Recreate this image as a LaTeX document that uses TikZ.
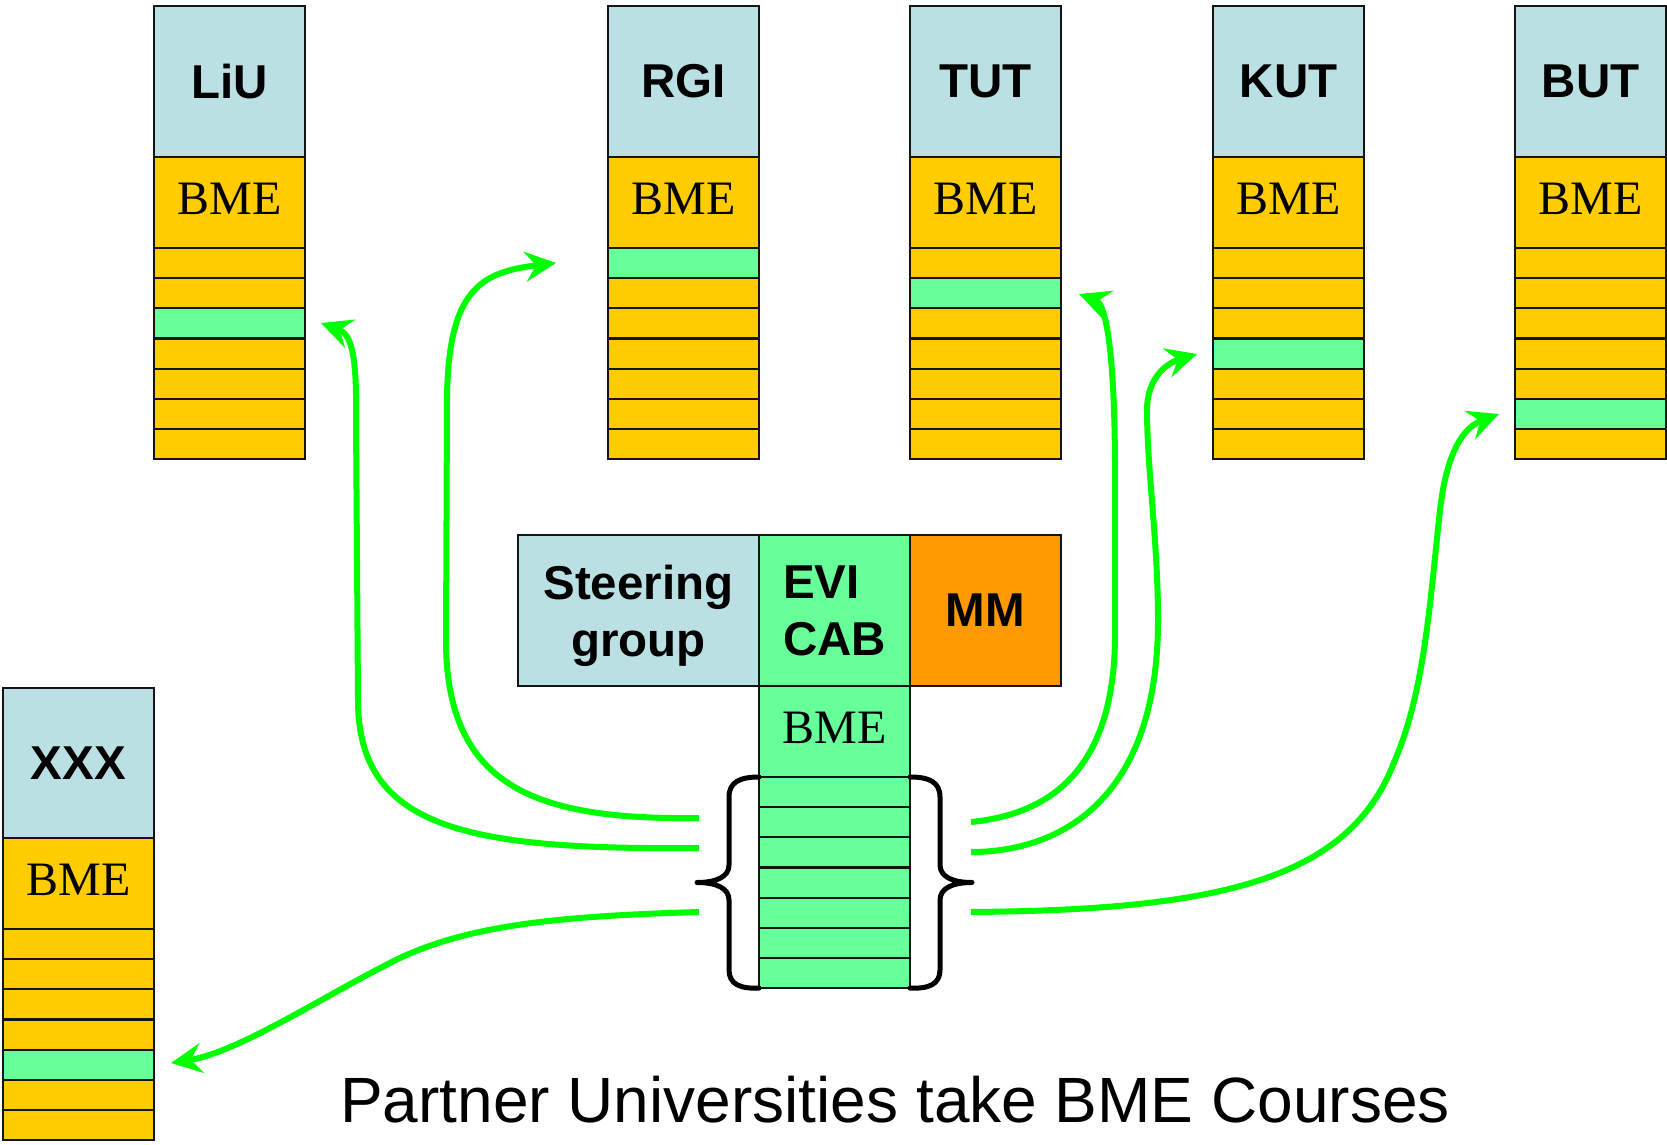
\documentclass[tikz,border=0pt]{standalone}
\usepackage{fontspec}
\setmainfont{Liberation Serif}
\setsansfont{Liberation Sans}
\usetikzlibrary{arrows.meta}
\definecolor{hdrblue}{HTML}{BBE0E3}
\definecolor{yl}{HTML}{FFCC00}
\definecolor{gr}{HTML}{66FF99}
\definecolor{mmorange}{HTML}{FF9900}
\definecolor{arrgreen}{HTML}{00FF00}
\definecolor{edge}{HTML}{141414}
\tikzset{
  box/.style={draw=edge, line width=2.2pt, inner sep=0pt, outer sep=0pt, anchor=north west, minimum width=151pt},
  hdr/.style={box, fill=hdrblue, minimum height=151pt, font=\sffamily\bfseries\fontsize{47.5}{57}\selectfont},
  band/.style={box, minimum height=91pt, font=\fontsize{48}{57}\selectfont, text height=31pt, text depth=8pt},
  rowbox/.style={box, minimum height=30.15pt},
  arr/.style={draw=arrgreen, line width=6pt, -{Stealth[length=31pt, width=30pt, inset=11pt]}},
  brace/.style={draw=black, line width=5pt, line cap=round, line join=round},
}
% #1 name, #2 x, #3 y top of BME band, #4 green row index, #5 fill
\newcommand\bmestack[5]{%
  \node[band, fill=#5] (#1-b) at (#2,#3) {BME};
  \foreach \r in {0,...,6}{%
    \ifnum\r=#4 \def\rowfill{gr}\else\def\rowfill{#5}\fi
    \node[rowbox, fill=\rowfill] (#1-r\r) at (#2,{#3+91+30.15*\r}) {};
  }%
}
\begin{document}
\begin{tikzpicture}[x=1pt, y=-1pt]
\useasboundingbox[fill=white] (0,0) rectangle (1667,1145);

% partner university columns
\node[hdr] (liu-h) at (154,6) {LiU};   \bmestack{liu}{154}{157}{2}{yl}
\node[hdr] (rgi-h) at (608,6) {RGI};   \bmestack{rgi}{608}{157}{0}{yl}
\node[hdr] (tut-h) at (910,6) {TUT};   \bmestack{tut}{910}{157}{1}{yl}
\node[hdr] (kut-h) at (1213,6) {KUT};  \bmestack{kut}{1213}{157}{3}{yl}
\node[hdr] (but-h) at (1515,6) {BUT};  \bmestack{but}{1515}{157}{5}{yl}
\node[hdr] (xxx-h) at (3,688) {XXX};   \bmestack{xxx}{3}{838}{4}{yl}

% central BME block
\node[hdr, minimum width=241pt, align=center] (steer) at (518,535) {Steering\\\raisebox{0pt}[\height][0pt]{group}};
\node[hdr, fill=gr, align=left] (evi) at (759,535) {EVI\\CAB};
\node[hdr, fill=mmorange] (mm) at (910,535) {MM};
\bmestack{cen}{759}{686}{-1}{gr}

% braces
\draw[brace] (cen-r0.north west) .. controls (740,777) and (729,782) .. (729,797) -- (729,865)
  .. controls (729,877) and (716,882.5) .. (697,882.5)
  .. controls (716,882.5) and (729,888) .. (729,900) -- (729,970)
  .. controls (729,984) and (740,989) .. (cen-r6.south west);
\draw[brace] (cen-r0.north east) .. controls (929,777) and (940,782) .. (940,797) -- (940,865)
  .. controls (940,877) and (953,882.5) .. (972,882.5)
  .. controls (953,882.5) and (940,888) .. (940,900) -- (940,970)
  .. controls (940,984) and (929,989) .. (cen-r6.south east);

% arrow end points
\coordinate (sLiU) at (699,848);  \coordinate (tLiU) at (321,323);
\coordinate (sRGI) at (699,818);  \coordinate (tRGI) at (556,263);
\coordinate (sTUT) at (971,822);  \coordinate (tTUT) at (1079,294);
\coordinate (sKUT) at (971,852);  \coordinate (tKUT) at (1197,354);
\coordinate (sBUT) at (971,912);  \coordinate (tBUT) at (1499,414);
\coordinate (sXXX) at (699,912);  \coordinate (tXXX) at (171,1063);

\draw[arr] (sLiU) .. controls (470,850) and (358,830) .. (358,700) -- (356,420)
  .. controls (357,352) and (351,334) .. (tLiU);
\draw[arr] (sRGI) .. controls (540,820) and (446,790) .. (446,640) -- (447,400)
  .. controls (448,290) and (480,272) .. (tRGI);
\draw[arr] (sTUT) .. controls (1040,815) and (1113,780) .. (1115,640) -- (1115,460)
  .. controls (1114,330) and (1103,303) .. (tTUT);
\draw[arr] (sKUT) .. controls (1060,852) and (1158,800) .. (1158,620)
  .. controls (1158,540) and (1147,470) .. (1147,410)
  .. controls (1147,375) and (1170,362) .. (tKUT);
\draw[arr] (sBUT) .. controls (1220,910) and (1350,880) .. (1395,760)
  .. controls (1425,690) and (1430,600) .. (1440,510)
  .. controls (1448,440) and (1470,425) .. (tBUT);
\draw[arr] (sXXX) .. controls (560,916) and (470,925) .. (400,958)
  .. controls (330,992) and (240,1052) .. (tXXX);

% title
\node[font=\sffamily\fontsize{64}{77}\selectfont, anchor=base] (title) at (895,1122) {Partner Universities take BME Courses};
\end{tikzpicture}
\end{document}
